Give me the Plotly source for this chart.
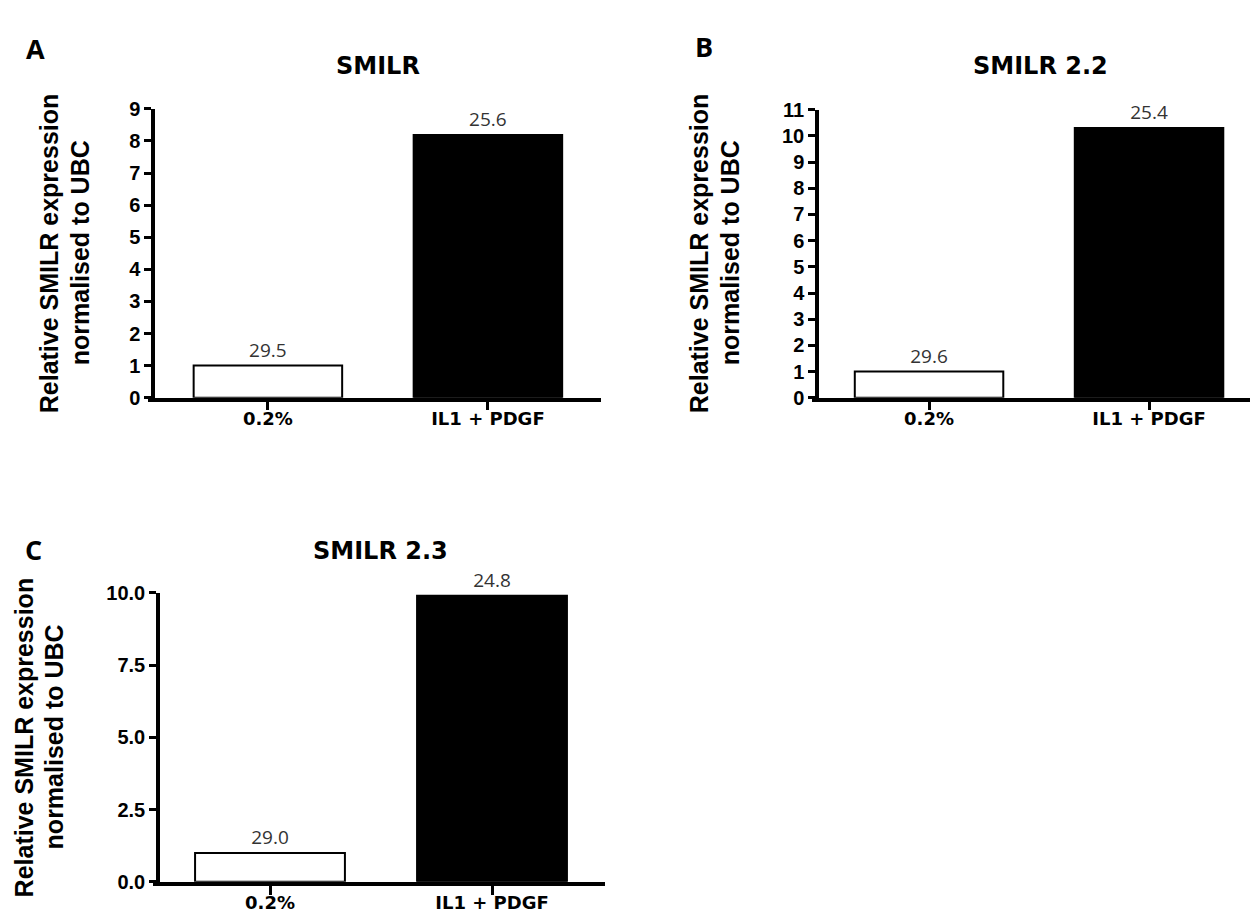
import plotly.graph_objects as go

W, H = 1258, 920

# ---- data ----
categories = ["0.2%", "IL1 + PDGF"]
smilr_vals = [1.0, 8.18]
smilr22_vals = [1.0, 10.3]
smilr23_vals = [1.0, 9.9]
smilr_ct = ["29.5", "25.6"]
smilr22_ct = ["29.6", "25.4"]
smilr23_ct = ["29.0", "24.8"]
panel_titles = ["SMILR", "SMILR 2.2", "SMILR 2.3"]
panel_letters = ["A", "B", "C"]
ytitle_lines = ["Relative SMILR expression", "normalised to UBC"]

def px(x):
    return x / W

def py(y):
    return 1 - y / H

WIDE = "DejaVu Sans"
ARIAL = "Liberation Sans"
bar_colors = ["white", "black"]

fig = go.Figure()

panels = [
    dict(vals=smilr_vals, ct=smilr_ct, xa="x", ya="y", xd=(140, 593), ypos=145,
         yd=(92, 388), xr=[-0.545, 1.514], yr=[0, 9], tv=list(range(0, 10)), fmt=None),
    dict(vals=smilr22_vals, ct=smilr22_ct, xa="x2", ya="y2", xd=(804, 1255), ypos=809,
         yd=(93, 388), xr=[-0.532, 1.518], yr=[0, 11], tv=list(range(0, 12)), fmt=None),
    dict(vals=smilr23_vals, ct=smilr23_ct, xa="x3", ya="y3", xd=(145, 597), ypos=150,
         yd=(588, 884), xr=[-0.527, 1.509], yr=[0, 10], tv=[0, 2.5, 5, 7.5, 10], fmt=".1f"),
]

layout_axes = {}
for i, p in enumerate(panels):
    fig.add_trace(go.Bar(
        x=categories, y=p["vals"], xaxis=p["xa"], yaxis=p["ya"],
        width=0.675,
        marker=dict(color=bar_colors, line=dict(color="black", width=2)),
        text=p["ct"], textposition="outside", cliponaxis=False,
        textfont=dict(family="Open Sans", size=19, color="#333333"),
        hoverinfo="skip",
    ))
    n = "" if i == 0 else str(i + 1)
    layout_axes["xaxis" + n] = dict(
        domain=[px(p["xd"][0]), px(p["xd"][1])], anchor=p["ya"], type="category",
        range=p["xr"], showgrid=False, zeroline=False, showline=True,
        linecolor="black", linewidth=3.5, ticks="outside", ticklen=9, tickwidth=3,
        tickcolor="black", ticklabelstandoff=-7,
        tickfont=dict(family=WIDE, size=18, color="black", weight="bold"),
    )
    layout_axes["yaxis" + n] = dict(
        domain=[py(p["yd"][1]), py(p["yd"][0])], anchor="free", position=px(p["ypos"]),
        range=p["yr"], tickvals=p["tv"], showgrid=False, zeroline=False, showline=True,
        linecolor="black", linewidth=3.5, ticks="outside", ticklen=7, tickwidth=3,
        tickcolor="black",
        tickfont=dict(family=ARIAL, size=20, color="black", weight="bold"),
        **({"tickformat": p["fmt"]} if p["fmt"] else {}),
    )

annotations = []
# titles
title_pos = [(370, 48), (1032, 48), (372, 545)]
for t, (x, y) in zip(panel_titles, title_pos):
    annotations.append(dict(text=t, x=px(x), y=py(y), xref="paper", yref="paper",
                            showarrow=False, xanchor="center", yanchor="middle",
                            font=dict(family=WIDE, size=24, color="black", weight="bold")))
# panel letters
letter_pos = [(27, 30), (696, 28), (26, 543)]
for t, (x, y) in zip(panel_letters, letter_pos):
    annotations.append(dict(text=t, x=px(x), y=py(y), xref="paper", yref="paper",
                            showarrow=False, xanchor="center", yanchor="middle",
                            font=dict(family="Open Sans", size=27, color="black", weight="bold")))
# y-axis titles (two lines each)
ytitle_pos = [((41, 72), 240), ((691, 722), 240), ((16, 46), 736)]
for (xs, yc) in ytitle_pos:
    for line, x in zip(ytitle_lines, xs):
        annotations.append(dict(text=line, x=px(x), y=py(yc), xref="paper", yref="paper",
                                showarrow=False, xanchor="center", yanchor="middle",
                                textangle=-90,
                                font=dict(family=ARIAL, size=25, color="black", weight="bold")))

fig.update_layout(
    width=W, height=H, margin=dict(l=0, r=0, t=0, b=0),
    paper_bgcolor="white", plot_bgcolor="white", showlegend=False,
    annotations=annotations,
    **layout_axes,
)

fig.write_html("out.html")
